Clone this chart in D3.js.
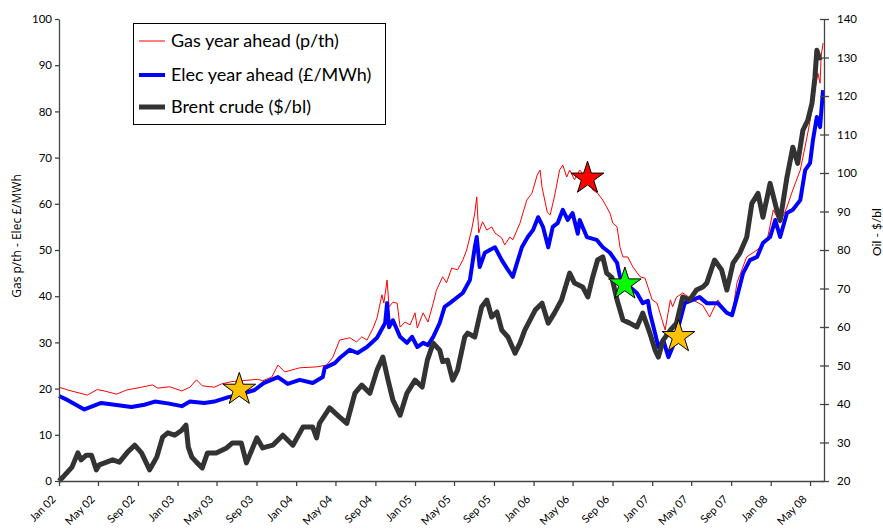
<!DOCTYPE html>
<html><head><meta charset="utf-8">
<script src="https://cdn.jsdelivr.net/npm/d3@7"></script>
<style>body{margin:0;background:#fff}svg{display:block}</style>
</head><body>
<svg id="chart" width="883" height="530"></svg>
<script>
// ---------- DATA ----------
const xTickLabels = ["Jan 02","May 02","Sep 02","Jan 03","May 03","Sep 03","Jan 04","May 04","Sep 04","Jan 05","May 05","Sep 05","Jan 06","May 06","Sep 06","Jan 07","May 07","Sep 07","Jan 08","May 08"];
const leftTicks = [0,10,20,30,40,50,60,70,80,90,100];
const rightTicks = [20,30,40,50,60,70,80,90,100,110,120,130,140];
const seriesNames = ["Gas year ahead (p/th)","Elec year ahead (£/MWh)","Brent crude ($/bl)"];

const gasDates = [
 "2002-01-01","2002-01-28","2002-03-29","2002-04-29","2002-05-20","2002-06-27","2002-07-28","2002-09-12","2002-10-16","2002-11-01","2002-12-08",
 "2003-01-14","2003-02-08","2003-02-28","2003-03-18","2003-04-24","2003-05-16","2003-06-16","2003-08-17","2003-09-05","2003-09-20","2003-10-18","2003-11-06","2003-11-27",
 "2004-01-12","2004-03-04","2004-04-04","2004-04-23","2004-05-14","2004-06-14","2004-07-05","2004-07-21","2004-08-06","2004-08-25","2004-09-06","2004-09-21","2004-09-27","2004-10-07","2004-10-13","2004-10-25","2004-11-07","2004-11-16","2004-12-01","2004-12-17",
 "2005-01-01","2005-01-08","2005-01-26","2005-02-10","2005-02-26","2005-03-08","2005-03-27","2005-04-08","2005-04-24","2005-05-12","2005-05-28","2005-06-09","2005-06-24","2005-07-04","2005-07-10","2005-07-16","2005-07-28","2005-08-10","2005-08-25","2005-09-04","2005-09-25","2005-10-04","2005-10-20","2005-10-29","2005-11-20","2005-12-11","2005-12-27",
 "2006-01-12","2006-01-21","2006-01-27","2006-02-12","2006-02-21","2006-03-06","2006-03-22","2006-04-01","2006-04-13","2006-04-22","2006-05-07","2006-05-23","2006-06-17","2006-07-02","2006-07-17","2006-08-02","2006-08-24","2006-09-02","2006-09-15","2006-09-24","2006-10-03","2006-10-18","2006-11-03","2006-11-25","2006-12-10","2006-12-19",
 "2007-01-01","2007-01-16","2007-01-25","2007-02-10","2007-02-26","2007-03-05","2007-03-17","2007-04-05","2007-05-06","2007-06-06","2007-06-27","2007-07-22","2007-08-19","2007-09-04","2007-09-19","2007-10-19","2007-11-20","2007-12-21",
 "2008-01-09","2008-01-30","2008-02-20","2008-03-09","2008-04-01","2008-04-22","2008-05-07","2008-05-16","2008-05-25","2008-06-01","2008-06-04","2008-06-10"];
const gasValues = [
 20.3,19.7,18.6,19.8,19.5,18.8,19.7,20.3,20.8,20.1,20.4,
 19.5,20.3,21.9,20.6,20.3,21.0,21.5,21.9,22.0,21.7,22.5,25.1,23.6,
 24.5,24.7,25.1,26.8,30.5,31.0,30.1,31.2,30.5,33.1,35.3,40.3,38.5,43.5,37.7,38.7,38.5,33.3,34.4,33.8,
 36.4,33.1,36.4,34.4,38.5,41.3,44.2,42.9,46.1,45.7,47.8,50.0,54.3,58.0,61.5,53.7,56.1,54.3,55.0,53.7,52.6,51.1,52.8,52.2,55.8,60.8,62.3,
 66.2,67.3,63.6,58.2,57.6,61.5,67.3,68.4,65.8,67.3,65.2,67.3,65.2,63.0,62.3,60.8,58.0,55.8,55.0,50.6,48.5,48.5,46.3,44.2,43.9,42.0,
 39.2,38.5,36.4,32.7,39.2,37.7,39.8,40.7,39.2,38.0,35.5,39.2,36.4,35.5,42.9,48.5,50.0,52.2,
 58.7,55.8,59.3,63.0,67.3,74.5,80.3,84.6,88.3,86.1,91.8,94.8];

const elecDates = [
 "2002-01-01","2002-01-28","2002-03-20","2002-05-11","2002-06-21","2002-08-12","2002-09-21","2002-10-23","2002-12-02",
 "2003-01-14","2003-02-08","2003-03-24","2003-04-24","2003-06-04","2003-07-16","2003-08-26","2003-09-23","2003-11-06","2003-12-06",
 "2004-01-12","2004-02-21","2004-03-23","2004-03-29","2004-04-29","2004-05-17","2004-06-14","2004-07-08","2004-08-06","2004-09-06","2004-10-01","2004-10-07","2004-10-13","2004-10-25","2004-11-16","2004-12-07","2004-12-23",
 "2005-01-08","2005-01-26","2005-02-10","2005-02-26","2005-03-18","2005-04-02","2005-04-18","2005-05-28","2005-06-19","2005-07-04","2005-07-10","2005-07-19","2005-08-04","2005-08-19","2005-09-04","2005-09-25","2005-10-14","2005-10-29","2005-11-11","2005-11-26","2005-12-14","2005-12-30",
 "2006-01-15","2006-01-30","2006-02-15","2006-03-01","2006-03-16","2006-04-01","2006-04-16","2006-05-01","2006-05-17","2006-05-23","2006-06-14","2006-07-14","2006-08-02","2006-08-24","2006-09-15","2006-09-24","2006-10-09","2006-11-15","2006-12-03","2006-12-19","2006-12-25",
 "2007-01-10","2007-01-20","2007-02-04","2007-02-20","2007-03-05","2007-03-26","2007-04-11","2007-05-06","2007-05-27","2007-06-18","2007-07-22","2007-08-19","2007-09-04","2007-09-19","2007-10-08","2007-10-29","2007-11-20","2007-12-08","2007-12-30",
 "2008-01-15","2008-01-30","2008-02-20","2008-03-09","2008-04-01","2008-04-16","2008-05-01","2008-05-10","2008-05-22","2008-06-01","2008-06-10"];
const elecValues = [
 18.4,17.5,15.5,16.9,16.5,16.0,16.5,17.2,16.8,
 16.2,17.2,16.9,17.2,18.1,18.8,19.7,21.2,22.5,21.0,
 21.9,21.2,22.5,24.5,25.5,26.8,28.4,27.7,29.0,31.0,34.2,38.5,33.3,34.8,31.2,29.9,31.2,
 29.0,29.9,29.4,31.2,34.2,37.7,38.5,40.7,43.5,50.6,52.8,46.3,49.4,50.0,50.6,47.8,45.7,44.2,47.2,50.6,52.8,54.3,
 57.1,55.0,50.6,55.0,55.8,58.7,56.5,58.0,53.5,56.5,52.8,52.2,50.6,49.4,47.2,44.2,42.9,40.7,38.5,39.0,36.4,
 32.0,29.0,30.5,26.8,29.0,34.2,38.5,39.2,39.8,38.5,38.5,36.4,35.9,39.8,45.0,47.8,48.5,51.5,52.8,
 56.5,52.8,58.0,58.7,60.8,67.3,68.8,73.8,78.8,76.6,84.6];

const brentDates = [
 "2002-01-01","2002-01-13","2002-02-10","2002-02-28","2002-03-10","2002-03-26","2002-04-11","2002-04-26","2002-05-05","2002-06-15","2002-07-06","2002-07-31","2002-08-22","2002-09-12","2002-10-07","2002-10-29","2002-11-16","2002-12-02","2002-12-23",
 "2003-01-14","2003-01-27","2003-02-03","2003-02-14","2003-02-28","2003-03-18","2003-04-03","2003-04-30","2003-06-01","2003-06-19","2003-07-16","2003-08-01","2003-09-02","2003-09-20","2003-10-21","2003-11-21","2003-12-22",
 "2004-01-22","2004-02-21","2004-03-04","2004-03-13","2004-04-13","2004-05-14","2004-06-05","2004-06-30","2004-07-21","2004-08-15","2004-09-06","2004-09-24","2004-10-10","2004-10-25","2004-11-16","2004-12-07",
 "2005-01-01","2005-01-23","2005-02-08","2005-02-26","2005-03-18","2005-03-27","2005-04-11","2005-04-27","2005-05-12","2005-06-03","2005-06-12","2005-07-04","2005-07-25","2005-08-10","2005-08-25","2005-09-10","2005-09-25","2005-10-14","2005-11-05","2005-11-20","2005-12-05",
 "2006-01-06","2006-01-27","2006-02-15","2006-03-06","2006-03-28","2006-04-22","2006-05-07","2006-06-01","2006-06-17","2006-07-02","2006-07-17","2006-08-02","2006-08-14","2006-08-30","2006-09-15","2006-10-03","2006-10-24","2006-11-15","2006-12-03","2006-12-25",
 "2007-01-10","2007-01-20","2007-02-04","2007-02-26","2007-03-17","2007-04-05","2007-04-26","2007-05-17","2007-06-06","2007-06-18","2007-07-12","2007-08-03","2007-08-19","2007-09-07","2007-09-28","2007-10-19","2007-11-04","2007-11-23","2007-12-08","2007-12-30",
 "2008-01-20","2008-01-30","2008-02-20","2008-03-09","2008-03-24","2008-04-09","2008-04-24","2008-05-07","2008-05-16","2008-05-22","2008-06-01"];
const brentValues = [
 20.0,21.0,23.6,27.3,25.5,26.7,26.7,22.9,24.2,25.5,24.9,27.5,29.3,27.3,22.9,26.2,31.4,32.5,31.9,
 33.2,34.5,28.8,26.2,24.9,23.4,27.3,27.3,28.6,29.9,29.9,24.7,31.2,28.6,29.3,31.9,29.3,
 34.0,34.0,31.2,35.0,39.0,36.6,35.0,42.8,44.9,42.8,48.8,52.2,46.2,41.0,37.1,42.8,
 46.2,44.4,51.4,55.8,54.0,51.0,51.4,46.2,48.8,57.4,58.4,57.4,65.2,67.0,62.6,63.9,59.2,57.4,53.2,55.8,59.2,
 64.4,66.2,61.0,63.6,67.0,74.0,71.4,70.4,67.8,73.0,77.4,78.2,74.0,72.9,67.0,61.8,61.0,60.0,63.6,58.4,
 54.0,52.2,56.6,59.2,61.0,67.8,67.0,69.6,70.4,71.4,77.4,74.8,69.6,76.6,79.2,83.3,92.1,94.7,88.5,97.3,
 90.3,87.7,98.9,106.7,102.5,111.1,113.7,118.1,124.8,131.9,129.3];

// star markers (on left axis scale)
const starDates = ["2003-07-10","2006-06-16","2006-10-09","2007-03-23"];
const starValues = [19.8, 65.5, 42.6, 31.2];
const starColors = ["#FFC000","#FF0000","#00FF00","#FFC000"];

const xStart = "2002-01-01", xEnd = "2008-06-13";

// ---------- CHART ----------
const parse = d3.timeParse("%Y-%m-%d");
const parseTick = d3.timeParse("%b %y");
const svg = d3.select("#chart");
const L = 59, R = 824, T = 19, B = 481;
const x = d3.scaleTime().domain([parse(xStart), parse(xEnd)]).range([L, R]);
const yL = d3.scaleLinear().domain([0, 100]).range([B, T]);
const yR = d3.scaleLinear().domain([20, 140]).range([B, T]);
const axisColor = "#444";
const tickFont = "Lato, 'Gill Sans', sans-serif";

function series(dates, vals){ return dates.map((d,i)=>({d:parse(d), v:vals[i]})); }
const gas = series(gasDates, gasValues);
const elec = series(elecDates, elecValues);
const brent = series(brentDates, brentValues);

const lineL = d3.line().x(p=>x(p.d)).y(p=>yL(p.v));
const lineR = d3.line().x(p=>x(p.d)).y(p=>yR(p.v));

const plot = svg.append("g");
plot.append("path").datum(gas).attr("d", lineL).attr("fill","none").attr("stroke","#FF0000").attr("stroke-width",1);
plot.append("path").datum(elec).attr("d", lineL).attr("fill","none").attr("stroke","#0000FF").attr("stroke-width",4).attr("stroke-linejoin","round");
plot.append("path").datum(brent).attr("d", lineR).attr("fill","none").attr("stroke","#333333").attr("stroke-width",5).attr("stroke-linejoin","round");

// stars
const star = d3.symbol().type(d3.symbolStar).size(330);
svg.append("g").selectAll("path").data(starDates.map((d,i)=>({d:parse(d), v:starValues[i], c:starColors[i]})))
  .join("path").attr("d", star)
  .attr("transform", s=>`translate(${x(s.d)},${yL(s.v)})`)
  .attr("fill", s=>s.c).attr("stroke","#000").attr("stroke-width",1);

// axes
const gx = svg.append("g").attr("transform",`translate(0,${B})`)
  .call(d3.axisBottom(x).tickValues(xTickLabels.map(parseTick)).tickFormat(d3.timeFormat("%b %y")).tickSizeInner(5).tickSizeOuter(0));
gx.selectAll("text").attr("transform","translate(-3,19) rotate(-45)").attr("y",0).attr("dy","0").attr("x",0)
  .style("text-anchor","end").style("font-family",tickFont).style("font-size","11px").attr("fill","#000");

const gl = svg.append("g").attr("transform",`translate(${L},0)`)
  .call(d3.axisLeft(yL).tickValues(leftTicks).tickSizeInner(4).tickSizeOuter(0).tickPadding(3));
gl.selectAll("text").style("font-family",tickFont).style("font-size","11.5px").attr("fill","#000");

const gr = svg.append("g").attr("transform",`translate(${R},0)`)
  .call(d3.axisRight(yR).tickValues(rightTicks).tickSizeInner(5).tickSizeOuter(0).tickPadding(8));
gr.selectAll(".tick line").attr("x1",-4);
gr.selectAll("text").style("font-family",tickFont).style("font-size","11.5px").attr("fill","#000");

[gx,gl,gr].forEach(g=>{ g.select(".domain").attr("stroke",axisColor).attr("stroke-width",1.3); g.selectAll(".tick line").attr("stroke",axisColor).attr("stroke-width",1.3); });

// axis titles
svg.append("text").attr("transform","translate(21,236) rotate(-90)").attr("text-anchor","middle")
  .style("font-family","'Open Sans', sans-serif").style("font-size","12px").text("Gas p/th - Elec £/MWh");
svg.append("text").attr("transform","translate(881,232) rotate(-90)").attr("text-anchor","middle")
  .style("font-family",tickFont).style("font-size","12px").text("Oil - $/bl");

// legend
const leg = svg.append("g");
leg.append("rect").attr("x",133.5).attr("y",23.5).attr("width",252).attr("height",101).attr("fill","#fff").attr("stroke","#000").attr("stroke-width",1);
const legColors = ["#FF0000","#0000FF","#333333"], legWidths = [1,4,5], legY = [41,75,107];
seriesNames.forEach((n,i)=>{
  leg.append("line").attr("x1",139).attr("x2",165).attr("y1",legY[i]).attr("y2",legY[i]).attr("stroke",legColors[i]).attr("stroke-width",legWidths[i]);
  leg.append("text").attr("x",171).attr("y",legY[i]).attr("dy","0.35em").style("font-family",tickFont).style("font-size","18px").text(n);
});
</script>
</body></html>
